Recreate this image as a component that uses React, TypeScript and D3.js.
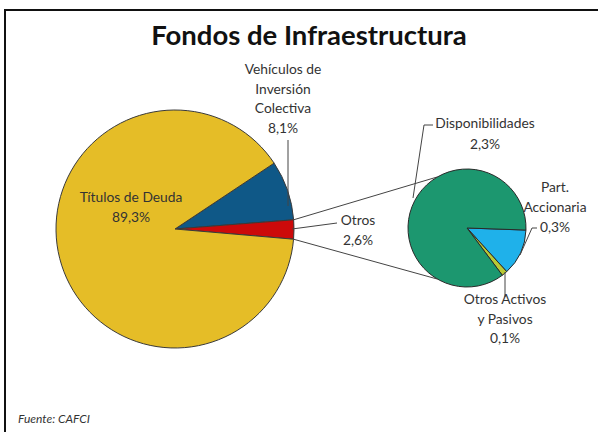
import React from 'react'
import * as d3 from 'd3'

// main pie (slice order matches the picture, clockwise from the blue wedge)
const mainNames = ['Vehículos de Inversión Colectiva', 'Otros', 'Títulos de Deuda']
const mainValues = [8.1, 2.6, 89.3]
const mainLabels = ['8,1%', '2,6%', '89,3%']
const mainColors = ['#0f5887', '#cc0a0a', '#e5bd27']

// breakdown of "Otros"
const subNames = ['Part. Accionaria', 'Otros Activos y Pasivos', 'Disponibilidades']
const subValues = [0.33, 0.04, 2.23]
const subLabels = ['0,3%', '0,1%', '2,3%']
const subColors = ['#1fb1ea', '#b9c934', '#1c976f']

const W = 598
const H = 432
const deg = Math.PI / 180
const FONT = 'Lato, "Open Sans", sans-serif'
const TXT = '#333'

const App = () => {
    const c1 = { x: 175, y: 229, r: 119 }
    const c2 = { x: 467, y: 228, r: 59 }

    const pie1 = d3.pie<number>().sort(null).startAngle(56.4 * deg).endAngle(56.4 * deg + 2 * Math.PI)
    const pie2 = d3.pie<number>().sort(null).startAngle(92 * deg).endAngle(92 * deg + 2 * Math.PI)
    const arcs1 = pie1(mainValues)
    const arcs2 = pie2(subValues)

    const arc1 = d3.arc<d3.PieArcDatum<number>>().innerRadius(0).outerRadius(c1.r)
    const arc2 = d3.arc<d3.PieArcDatum<number>>().innerRadius(0).outerRadius(c2.r)

    const pt = (c, a, r = c.r) => [c.x + r * Math.sin(a), c.y - r * Math.cos(a)]

    // connectors from "Otros" wedge to second pie
    const otros = arcs1[1]
    const p1a = pt(c1, otros.startAngle)
    const p1b = pt(c1, otros.endAngle)
    const p2a = pt(c2, 330 * deg)
    const p2b = pt(c2, 210 * deg)

    const line = d3.line()

    const label = (lines, x, y, dy = 19.5) => (
        <text x={x} y={y} textAnchor='middle' fill={TXT} fontFamily={FONT} fontSize={13.8}>
            {lines.map((l, i) => (
                <tspan key={i} x={x} dy={i === 0 ? 0 : dy}>{l}</tspan>
            ))}
        </text>
    )

    return (
        <svg width={W} height={H} style={{ position: 'absolute', left: 0, top: 0, background: '#fff' }}>
            {/* frame (only top and left edges visible) */}
            <path d={line([[5, H], [5, 10], [W, 10]])} fill='none' stroke='#111' strokeWidth={2} />

            <text x={309} y={45} textAnchor='middle' fontFamily={FONT} fontWeight='bold' fontSize={27.5} fill='#111'>
                Fondos de Infraestructura
            </text>

            <g transform={`translate(${c1.x},${c1.y})`}>
                {arcs1.map((a, i) => (
                    <path key={mainNames[i]} d={arc1(a)} fill={mainColors[i]} stroke='#3a3a3a' strokeWidth={1} />
                ))}
            </g>
            <g transform={`translate(${c2.x},${c2.y})`}>
                {arcs2.map((a, i) => (
                    <path key={subNames[i]} d={arc2(a)} fill={subColors[i]} stroke='#2a2a2a' strokeWidth={1} />
                ))}
            </g>

            <g fill='none' stroke='#444' strokeWidth={1}>
                <path d={line([p1a, p2a])} />
                <path d={line([p1b, p2b])} />
                {/* leader lines */}
                <path d={line([[288, 140], [288, 206]])} />
                <path d={line([pt(c1, 90 * deg, c1.r - 2), [337, 223]])} />
                <path d={line([[433, 125], [424, 125], [413, 198]])} />
                <path d={line([[537, 228], [532, 228], [520, 255]])} />
                <path d={line([[505, 272], [505, 297]])} />
            </g>

            {label(['Vehículos de', 'Inversión', 'Colectiva', mainLabels[0]], 283, 74)}
            {label(['Títulos de Deuda', mainLabels[2]], 131, 202, 20)}
            {label([mainNames[1], mainLabels[1]], 358, 225, 20)}
            {label([subNames[2], subLabels[2]], 485, 128, 21)}
            {label(['Part.', 'Accionaria', subLabels[0]], 555, 192, 20)}
            {label(['Otros Activos', 'y Pasivos', subLabels[1]], 505, 304)}

            <text x={18} y={423} fontFamily={FONT} fontStyle='italic' fontSize={12} fill={TXT}>
                Fuente: CAFCI
            </text>
        </svg>
    )
}

export default App
